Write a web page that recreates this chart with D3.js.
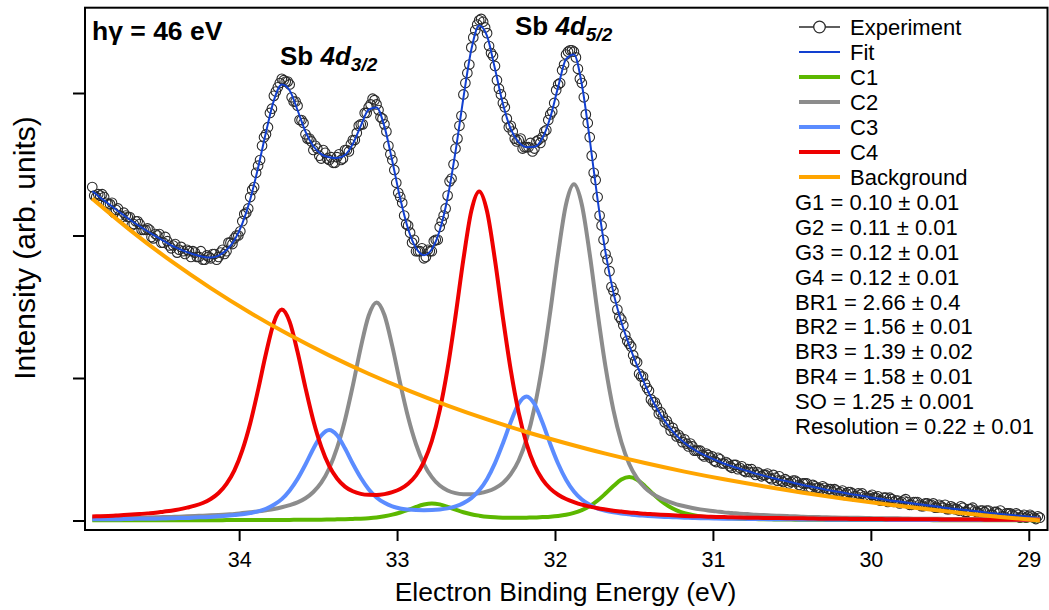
<!DOCTYPE html>
<html><head><meta charset="utf-8">
<script src="https://cdn.jsdelivr.net/npm/d3@7"></script>
<style>
body{margin:0;background:#fff}
svg{display:block}
text{font-family:"Liberation Sans",Arial,Helvetica,sans-serif;fill:#000}
</style>
</head><body>
<svg id="chart" width="1049" height="610"></svg>
<script>
// ---------- data ----------
const energy = [34.93,34.88,34.83,34.78,34.73,34.68,34.63,34.58,34.53,34.48,34.43,34.38,34.33,34.28,34.23,34.18,34.13,34.08,34.03,33.98,33.93,33.88,33.83,33.78,33.73,33.68,33.63,33.58,33.53,33.48,33.43,33.38,33.33,33.28,33.23,33.18,33.13,33.08,33.03,32.98,32.93,32.88,32.83,32.78,32.73,32.68,32.63,32.58,32.53,32.48,32.43,32.38,32.33,32.28,32.23,32.18,32.13,32.08,32.03,31.98,31.93,31.88,31.83,31.78,31.73,31.68,31.63,31.58,31.53,31.48,31.43,31.38,31.33,31.28,31.23,31.18,31.13,31.08,31.03,30.98,30.93,30.88,30.83,30.78,30.73,30.68,30.63,30.58,30.53,30.48,30.43,30.38,30.33,30.28,30.23,30.18,30.13,30.08,30.03,29.98,29.93,29.88,29.83,29.78,29.73,29.68,29.63,29.58,29.53,29.48,29.43,29.38,29.33,29.28,29.23,29.18,29.13,29.08,29.03,28.98,28.93];

const c1 = [0.001,0.001,0.001,0.001,0.001,0.001,0.001,0.002,0.002,0.002,0.002,
0.002,0.002,0.002,0.002,0.002,0.002,0.003,0.003,0.003,0.003,
0.003,0.003,0.004,0.004,0.004,0.005,0.005,0.006,0.006,0.007,
0.008,0.009,0.011,0.013,0.016,0.021,0.030,0.041,0.056,0.074,0.095,0.112,0.120,
0.113,0.096,0.076,0.058,0.044,0.034,0.026,0.022,0.020,0.019,0.019,0.020,0.021,0.024,
0.027,0.032,0.040,0.053,0.073,0.101,0.140,0.189,0.242,0.287,0.305,
0.286,0.241,0.188,0.139,0.100,0.071,0.051,0.038,0.029,0.024,0.020,0.017,0.015,0.013,0.011,0.010,0.009,0.008,0.007,0.007,0.006,0.006,
0.005,0.005,0.004,0.004,0.004,0.003,0.003,0.003,0.003,0.003,
0.003,0.003,0.003,0.003,0.003,0.003,0.002,0.002,0.002,0.002,0.002,0.002,0.002,0.002,0.002,0.002,0.002,0.002,0.002,0.002];

const c2 = [0.015,0.015,0.016,0.017,0.018,0.019,0.020,0.021,0.022,0.024,0.025,
0.027,0.029,0.031,0.034,0.036,0.039,0.043,0.046,0.052,0.058,
0.064,0.072,0.081,0.093,0.108,0.127,0.156,0.200,0.265,0.365,
0.509,0.704,0.947,1.213,1.437,1.530,1.442,1.222,0.962,0.724,
0.535,0.396,0.304,0.245,0.211,0.192,0.185,0.184,0.191,0.204,
0.227,0.264,0.325,0.421,0.571,0.791,1.091,1.466,1.874,2.219,
2.359,2.216,1.868,1.456,1.078,0.775,0.551,0.397,0.295,0.229,
0.185,0.155,0.132,0.113,0.100,0.088,0.078,0.070,0.064,0.057,
0.053,0.048,0.045,0.040,0.038,0.035,0.033,0.031,0.029,0.026,
0.025,0.024,0.022,0.021,0.020,0.019,0.019,0.018,0.016,0.016,
0.015,0.015,0.014,0.013,0.013,0.012,0.012,0.011,0.011,0.011,
0.010,0.010,0.010,0.009,0.009,0.009,0.009,0.008,0.008,0.008];

const c3 = [0.008,0.008,0.009,0.009,0.010,0.011,0.012,0.012,0.013,0.014,0.015,
0.017,0.018,0.021,0.023,0.025,0.029,0.033,0.038,0.044,0.053,
0.064,0.082,0.110,0.150,0.211,0.292,0.393,0.504,0.596,0.635,
0.598,0.507,0.398,0.300,0.220,0.162,0.124,0.099,0.084,0.077,
0.073,0.072,0.073,0.077,0.085,0.099,0.122,0.157,0.212,0.292,
0.403,0.541,0.691,0.819,0.870,0.817,0.689,0.537,0.398,0.286,
0.203,0.147,0.110,0.084,0.068,0.057,0.049,0.043,0.037,0.033,
0.029,0.026,0.024,0.022,0.020,0.018,0.016,0.015,0.014,0.013,
0.012,0.012,0.011,0.010,0.010,0.009,0.008,0.008,0.008,0.007,
0.007,0.007,0.006,0.006,0.006,0.005,0.005,0.005,0.005,0.005,
0.004,0.004,0.004,0.004,0.004,0.004,0.004,0.004,0.004,0.004,
0.004,0.004,0.004,0.004,0.003,0.003,0.003,0.003,0.003,0.003];

const c4 = [0.028,0.030,0.032,0.035,0.038,0.042,0.045,0.050,0.055,0.062,0.069,
0.078,0.090,0.104,0.123,0.151,0.193,0.257,0.352,0.492,0.681,
0.917,1.172,1.389,1.480,1.394,1.182,0.931,0.700,0.517,0.383,
0.295,0.238,0.205,0.187,0.180,0.179,0.185,0.199,0.221,0.258,
0.317,0.412,0.558,0.773,1.067,1.434,1.833,2.171,2.309,2.168,
1.827,1.425,1.055,0.757,0.538,0.388,0.289,0.224,0.181,0.151,
0.129,0.111,0.098,0.086,0.077,0.069,0.063,0.056,0.052,0.047,
0.044,0.041,0.038,0.035,0.032,0.030,0.029,0.027,0.025,0.024,
0.022,0.021,0.020,0.019,0.018,0.018,0.017,0.016,0.015,0.015,
0.014,0.013,0.013,0.012,0.012,0.011,0.011,0.010,0.010,0.010,
0.009,0.009,0.009,0.009,0.008,0.008,0.008,0.007,0.007,0.007,
0.007,0.007,0.006,0.006,0.006,0.006,0.006,0.006,0.006,0.006];

const fit = [2.311,2.267,2.225,2.183,2.142,2.102,2.065,2.030,1.996,1.964,1.931,
1.906,1.883,1.865,1.851,1.845,1.859,1.898,1.966,2.084,2.253,
2.475,2.724,2.948,3.059,3.018,2.879,2.729,2.626,2.571,2.549,
2.543,2.565,2.643,2.769,2.883,2.899,2.764,2.521,2.259,2.046,
1.912,1.862,1.904,2.035,2.265,2.588,2.965,3.304,3.474,3.399,
3.170,2.924,2.746,2.655,2.620,2.622,2.682,2.828,3.043,3.238,
3.271,3.060,2.675,2.250,1.881,1.599,1.393,1.230,1.086,0.953,
0.837,0.740,0.661,0.596,0.546,0.506,0.473,0.447,0.423,0.400,
0.381,0.363,0.347,0.329,0.315,0.301,0.287,0.275,0.262,0.249,
0.238,0.228,0.215,0.205,0.196,0.185,0.177,0.168,0.158,0.151,
0.141,0.135,0.127,0.119,0.112,0.105,0.098,0.089,0.083,0.077,
0.070,0.065,0.057,0.051,0.045,0.040,0.035,0.029,0.024,0.019];

const bgEnergy = [34.93,34.68,34.43,34.18,33.93,33.68,33.43,33.18,32.93,32.68,32.43,32.18,31.93,31.68,31.43,31.18,30.93,30.68,30.43,30.18,29.93,29.68,29.43,29.18,28.93];
const background = [2.259,2.029,1.820,1.631,1.458,1.301,1.159,1.030,0.913,0.806,0.709,0.621,0.542,0.469,0.403,0.343,0.289,0.240,0.195,0.154,0.117,0.084,0.053,0.025,0.000];

// experimental points, first set
const expEnergy = [34.93,34.905,34.88,34.855,34.83,34.805,34.78,34.755,34.73,34.705,
34.68,34.655,34.63,34.605,34.58,34.555,34.53,34.505,34.48,34.455,
34.43,34.405,34.38,34.355,34.33,34.305,34.28,34.255,34.23,34.205,
34.18,34.155,34.13,34.105,34.08,34.055,34.03,34.005,33.98,33.955,
33.93,33.905,33.88,33.855,33.83,33.805,33.78,33.755,33.73,33.705,
33.68,33.655,33.63,33.605,33.58,33.555,33.53,33.505,33.48,33.455,
33.43,33.405,33.38,33.355,33.33,33.305,33.28,33.255,33.23,33.205,
33.18,33.155,33.13,33.105,33.08,33.055,33.03,33.005,32.98,32.955,
32.93,32.905,32.88,32.855,32.83,32.805,32.78,32.755,32.73,32.705,
32.68,32.655,32.63,32.605,32.58,32.555,32.53,32.505,32.48,32.455,
32.43,32.405,32.38,32.355,32.33,32.305,32.28,32.255,32.23,32.205,
32.18,32.155,32.13,32.105,32.08,32.055,32.03,32.005,31.98,31.955,
31.93,31.905,31.88,31.855,31.83,31.805,31.78,31.755,31.73,31.705,
31.68,31.655,31.63,31.605,31.58,31.555,31.53,31.505,31.48,31.455,
31.43,31.405,31.38,31.355,31.33,31.305,31.28,31.255,31.23,31.205,
31.18,31.155,31.13,31.105,31.08,31.055,31.03,31.005,30.98,30.955,
30.93,30.905,30.88,30.855,30.83,30.805,30.78,30.755,30.73,30.705,
30.68,30.655,30.63,30.605,30.58,30.555,30.53,30.505,30.48,30.455,
30.43,30.405,30.38,30.355,30.33,30.305,30.28,30.255,30.23,30.205,
30.18,30.155,30.13,30.105,30.08,30.055,30.03,30.005,29.98,29.955,
29.93,29.905,29.88,29.855,29.83,29.805,29.78,29.755,29.73,29.705,
29.68,29.655,29.63,29.605,29.58,29.555,29.53,29.505,29.48,29.455,
29.43,29.405,29.38,29.355,29.33,29.305,29.28,29.255,29.23,29.205,
29.18,29.155,29.13,29.105,29.08,29.055,29.03,29.005,28.98,28.955,
28.93];

const experiment = [2.34,2.27,2.28,2.27,2.22,2.23,2.18,2.14,2.16,2.13,
2.07,2.10,2.08,2.04,2.05,1.99,2.01,2.01,1.95,1.96,
1.91,1.94,1.90,1.89,1.90,1.85,1.88,1.85,1.83,1.86,
1.84,1.87,1.85,1.90,1.89,1.95,1.98,2.00,2.10,2.16,
2.27,2.34,2.49,2.63,2.71,2.86,2.98,3.04,3.10,3.08,
3.06,2.94,2.91,2.81,2.71,2.68,2.60,2.61,2.54,2.58,
2.53,2.51,2.55,2.53,2.60,2.59,2.67,2.72,2.78,2.86,
2.90,2.96,2.92,2.83,2.78,2.63,2.53,2.37,2.27,2.14,
2.07,1.95,1.89,1.89,1.84,1.90,1.89,1.97,2.06,2.14,
2.28,2.40,2.61,2.77,2.99,3.14,3.32,3.44,3.51,3.50,
3.42,3.28,3.19,3.03,2.93,2.82,2.77,2.68,2.67,2.61,
2.62,2.65,2.61,2.67,2.69,2.74,2.85,2.93,3.06,3.16,
3.27,3.30,3.29,3.17,3.07,2.85,2.69,2.44,2.27,2.07,
1.87,1.75,1.61,1.48,1.41,1.30,1.24,1.16,1.11,1.01,
0.96,0.91,0.83,0.80,0.76,0.69,0.67,0.65,0.59,0.58,
0.57,0.52,0.52,0.49,0.49,0.45,0.46,0.45,0.41,0.43,
0.40,0.40,0.37,0.39,0.37,0.35,0.36,0.36,0.32,0.33,
0.32,0.33,0.29,0.30,0.31,0.27,0.28,0.27,0.28,0.25,
0.26,0.26,0.23,0.24,0.23,0.24,0.21,0.22,0.22,0.19,
0.21,0.19,0.20,0.17,0.19,0.19,0.16,0.17,0.16,0.17,
0.14,0.16,0.16,0.13,0.14,0.13,0.15,0.11,0.13,0.13,
0.10,0.12,0.11,0.12,0.09,0.10,0.11,0.08,0.09,0.08,
0.10,0.06,0.08,0.09,0.06,0.07,0.06,0.07,0.04,0.06,
0.07,0.03,0.05,0.04,0.05,0.02,0.04,0.03,0.03,0.01,0.02];

// experimental points, interleaved second set
const expEnergyB = [34.9175,34.8925,34.8675,34.8425,34.8175,34.7925,34.7675,34.7425,34.7175,34.6925,
34.6675,34.6425,34.6175,34.5925,34.5675,34.5425,34.5175,34.4925,34.4675,34.4425,
34.4175,34.3925,34.3675,34.3425,34.3175,34.2925,34.2675,34.2425,34.2175,34.1925,
34.1675,34.1425,34.1175,34.0925,34.0675,34.0425,34.0175,33.9925,33.9675,33.9425,
33.9175,33.8925,33.8675,33.8425,33.8175,33.7925,33.7675,33.7425,33.7175,33.6925,
33.6675,33.6425,33.6175,33.5925,33.5675,33.5425,33.5175,33.4925,33.4675,33.4425,
33.4175,33.3925,33.3675,33.3425,33.3175,33.2925,33.2675,33.2425,33.2175,33.1925,
33.1675,33.1425,33.1175,33.0925,33.0675,33.0425,33.0175,32.9925,32.9675,32.9425,
32.9175,32.8925,32.8675,32.8425,32.8175,32.7925,32.7675,32.7425,32.7175,32.6925,
32.6675,32.6425,32.6175,32.5925,32.5675,32.5425,32.5175,32.4925,32.4675,32.4425,
32.4175,32.3925,32.3675,32.3425,32.3175,32.2925,32.2675,32.2425,32.2175,32.1925,
32.1675,32.1425,32.1175,32.0925,32.0675,32.0425,32.0175,31.9925,31.9675,31.9425,
31.9175,31.8925,31.8675,31.8425,31.8175,31.7925,31.7675,31.7425,31.7175,31.6925,
31.6675,31.6425,31.6175,31.5925,31.5675,31.5425,31.5175,31.4925,31.4675,31.4425,
31.4175,31.3925,31.3675,31.3425,31.3175,31.2925,31.2675,31.2425,31.2175,31.1925,
31.1675,31.1425,31.1175,31.0925,31.0675,31.0425,31.0175,30.9925,30.9675,30.9425,
30.9175,30.8925,30.8675,30.8425,30.8175,30.7925,30.7675,30.7425,30.7175,30.6925,
30.6675,30.6425,30.6175,30.5925,30.5675,30.5425,30.5175,30.4925,30.4675,30.4425,
30.4175,30.3925,30.3675,30.3425,30.3175,30.2925,30.2675,30.2425,30.2175,30.1925,
30.1675,30.1425,30.1175,30.0925,30.0675,30.0425,30.0175,29.9925,29.9675,29.9425,
29.9175,29.8925,29.8675,29.8425,29.8175,29.7925,29.7675,29.7425,29.7175,29.6925,
29.6675,29.6425,29.6175,29.5925,29.5675,29.5425,29.5175,29.4925,29.4675,29.4425,
29.4175,29.3925,29.3675,29.3425,29.3175,29.2925,29.2675,29.2425,29.2175,29.1925,
29.1675,29.1425,29.1175,29.0925,29.0675,29.0425,29.0175,28.9925,28.9675,28.9425];

const experimentB = [2.28,2.29,2.29,2.23,2.22,2.16,2.19,2.13,2.14,2.13,
2.08,2.10,2.04,2.04,2.04,1.98,2.00,1.95,1.99,1.93,
1.93,1.88,1.92,1.87,1.89,1.89,1.85,1.89,1.83,1.85,
1.87,1.83,1.88,1.87,1.95,1.94,2.00,2.03,2.15,2.19,
2.32,2.44,2.53,2.69,2.76,2.89,3.01,3.07,3.09,3.08,
2.97,2.94,2.81,2.79,2.68,2.66,2.63,2.56,2.60,2.54,
2.55,2.51,2.57,2.54,2.60,2.64,2.67,2.77,2.78,2.86,
2.92,2.95,2.88,2.82,2.73,2.57,2.46,2.30,2.23,2.08,
2.02,1.97,1.89,1.91,1.85,1.89,1.96,1.97,2.10,2.19,
2.38,2.50,2.68,2.84,3.07,3.20,3.39,3.48,3.52,3.46,
3.33,3.26,3.09,2.99,2.90,2.76,2.73,2.66,2.68,2.62,
2.62,2.59,2.66,2.65,2.73,2.81,2.87,3.02,3.07,3.20,
3.29,3.30,3.25,3.10,2.97,2.79,2.56,2.39,2.14,1.97,
1.83,1.64,1.56,1.43,1.37,1.26,1.22,1.12,1.03,1.01,
0.93,0.85,0.83,0.75,0.73,0.70,0.63,0.62,0.60,0.55,
0.54,0.54,0.49,0.49,0.46,0.47,0.44,0.42,0.44,0.40,
0.41,0.38,0.39,0.36,0.38,0.34,0.34,0.34,0.34,0.31,
0.32,0.30,0.32,0.28,0.28,0.29,0.26,0.28,0.27,0.24,
0.26,0.23,0.25,0.23,0.22,0.23,0.22,0.20,0.21,0.20,
0.18,0.20,0.19,0.17,0.18,0.17,0.16,0.18,0.16,0.14,
0.16,0.13,0.15,0.14,0.12,0.14,0.13,0.11,0.13,0.11,
0.10,0.12,0.11,0.09,0.11,0.09,0.08,0.10,0.08,0.07,
0.09,0.06,0.08,0.07,0.05,0.07,0.07,0.04,0.06,0.05,
0.03,0.05,0.05,0.03,0.04,0.03,0.02,0.04,0.02,0.03];

const xTicks = [34,33,32,31,30,29];
const yTicks = [0,1,2,3];
const legendLabels = ["Experiment","Fit","C1","C2","C3","C4","Background"];
const paramLabels = ["G1 = 0.10 ± 0.01","G2 = 0.11 ± 0.01","G3 = 0.12 ± 0.01","G4 = 0.12 ± 0.01",
  "BR1 = 2.66 ± 0.4","BR2 = 1.56 ± 0.01","BR3 = 1.39 ± 0.02","BR4 = 1.58 ± 0.01",
  "SO = 1.25 ± 0.001","Resolution = 0.22 ± 0.01"];

// ---------- drawing ----------
const svg = d3.select("#chart");
const L = 85, T = 7.7, R = 1047.5, B = 530;
const x = d3.scaleLinear().domain([34.976, 28.8815]).range([L, R]);
const y = d3.scaleLinear().domain([0, 1]).range([520.5, 378]);

const col = {exp:"#2a2a2a", fit:"#1240d0", c1:"#5cb800", c2:"#8c8c8c", c3:"#5b8cff", c4:"#ee0000", bg:"#ffa500"};

svg.append("clipPath").attr("id","clip").append("rect")
  .attr("x",L).attr("y",T).attr("width",R-L).attr("height",B-T);
const plot = svg.append("g").attr("clip-path","url(#clip)");

const line = d3.line().x((d,i)=>x(energy[i])).y(d=>y(d)).curve(d3.curveMonotoneX);

// experiment circles (both interleaved sets, merged in energy order)
const expPoints = expEnergy.map((e,i)=>({e, v:experiment[i]}))
  .concat(expEnergyB.map((e,i)=>({e, v:experimentB[i]})))
  .sort((a,b)=>b.e-a.e);
plot.append("g").selectAll("circle").data(expPoints).join("circle")
  .attr("cx",d=>x(d.e)).attr("cy",d=>y(d.v)).attr("r",4.8)
  .attr("fill","none").attr("stroke",col.exp).attr("stroke-width",1.1);

// fit
plot.append("path").datum(fit).attr("d",line)
  .attr("fill","none").attr("stroke",col.fit).attr("stroke-width",2);

// components
[[c1,col.c1],[c2,col.c2],[c3,col.c3],[c4,col.c4]].forEach(([s,c])=>{
  plot.append("path").datum(s).attr("d",line)
    .attr("fill","none").attr("stroke",c).attr("stroke-width",4).attr("stroke-linejoin","round");
});

// background
const bgLine = d3.line().x((d,i)=>x(bgEnergy[i])).y(d=>y(d)).curve(d3.curveNatural);
plot.append("path").datum(background).attr("d",bgLine)
  .attr("fill","none").attr("stroke",col.bg).attr("stroke-width",4);

// axes
const xAxis = d3.axisBottom(x).tickValues(xTicks).tickSize(11).tickPadding(11).tickFormat(d3.format("d"));
const gx = svg.append("g").attr("transform",`translate(0,${B})`).call(xAxis);
gx.select(".domain").remove();
gx.selectAll("line").attr("stroke","#000").attr("stroke-width",2);
gx.selectAll("text").attr("font-size",21.5).attr("fill","#000").style("font-family",'"Liberation Sans",Arial,sans-serif');

const yAxis = d3.axisLeft(y).tickValues(yTicks).tickSize(12).tickFormat("");
const gy = svg.append("g").attr("transform",`translate(${L},0)`).call(yAxis);
gy.select(".domain").remove();
gy.selectAll("line").attr("stroke","#000").attr("stroke-width",2);

// frame
svg.append("rect").attr("x",L).attr("y",T).attr("width",R-L).attr("height",B-T)
  .attr("fill","none").attr("stroke","#000").attr("stroke-width",2);

// axis titles
svg.append("text").attr("x",565.5).attr("y",601).attr("text-anchor","middle")
  .attr("font-size",26.5).text("Electron Binding Energy (eV)");
svg.append("text").attr("transform","translate(35,248) rotate(-90)").attr("text-anchor","middle")
  .attr("font-size",30).text("Intensity (arb. units)");

// annotations
svg.append("text").attr("x",92).attr("y",40).attr("font-size",26.5).attr("font-weight","bold").text("hγ = 46 eV");
function peakLabel(px, py, sub){
  const t = svg.append("text").attr("x",px).attr("y",py).attr("font-size",26).attr("font-weight","bold");
  t.append("tspan").text("Sb ");
  t.append("tspan").attr("font-style","italic").text("4d");
  t.append("tspan").attr("font-style","italic").attr("font-size",19).attr("dy",6).text(sub);
}
peakLabel(280, 65, "3/2");
peakLabel(515, 35, "5/2");

// legend
const lg = svg.append("g");
const legendColors = [col.exp,col.fit,col.c1,col.c2,col.c3,col.c4,col.bg];
const legendWidths = [1.5,2,4,4,4,4,4];
legendLabels.forEach((lab,i)=>{
  const yy = 27 + i*25;
  lg.append("line").attr("x1",799).attr("x2",840).attr("y1",yy).attr("y2",yy)
    .attr("stroke",legendColors[i]).attr("stroke-width",legendWidths[i]);
  if(i===0){
    lg.append("circle").attr("cx",819.5).attr("cy",yy).attr("r",5.8)
      .attr("fill","#fff").attr("stroke",col.exp).attr("stroke-width",1.3);
  }
  lg.append("text").attr("x",850).attr("y",yy).attr("dy","0.36em").attr("font-size",22).text(lab);
});
paramLabels.forEach((lab,i)=>{
  lg.append("text").attr("x",795).attr("y",202 + i*24.9).attr("dy","0.36em").attr("font-size",22).text(lab);
});
</script>
</body></html>
